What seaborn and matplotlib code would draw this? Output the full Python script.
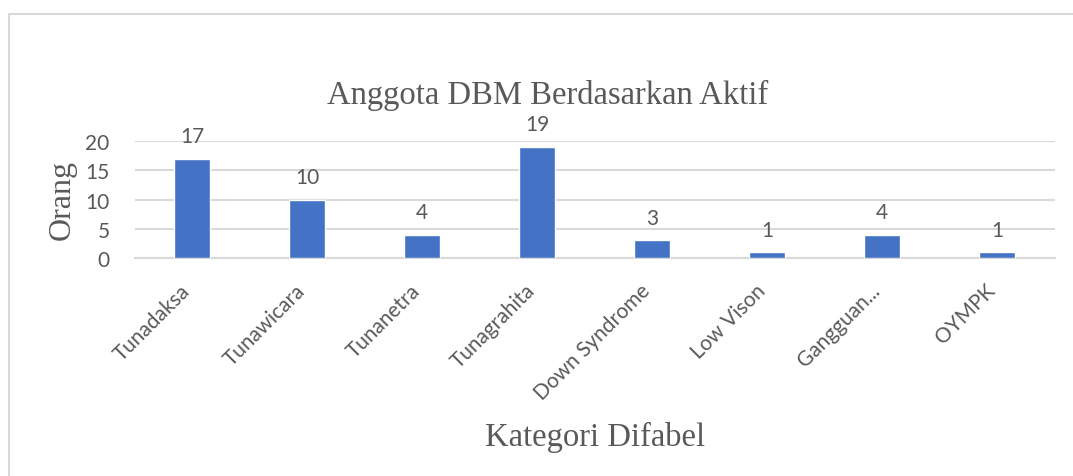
import matplotlib
matplotlib.use("Agg")
import matplotlib.pyplot as plt
from matplotlib.patches import Rectangle
import pandas as pd
import seaborn as sns

# data
categories = ['Tunadaksa', 'Tunawicara', 'Tunanetra', 'Tunagrahita',
              'Down Syndrome', 'Low Vison', 'Gangguan...', 'OYMPK']
jumlah = [17, 10, 4, 19, 3, 1, 4, 1]
y_ticks = [0, 5, 10, 15, 20]

df = pd.DataFrame({'Kategori': categories, 'Orang': jumlah})

sns.set_theme(style="white")
text_col = '#595959'
grid_col = '#D9D9D9'
sans = ['Lato', 'DejaVu Sans']
serif = ['Liberation Serif', 'DejaVu Serif']

fig = plt.figure(figsize=(10.73, 4.77), dpi=100)
ax = fig.add_axes([0.1254, 0.457, 0.8574, 0.2453])

sns.barplot(data=df, x='Kategori', y='Orang', color='#4472C4', width=0.31,
            saturation=1, ax=ax, zorder=3)

ax.set_ylim(0, 20)
ax.set_yticks(y_ticks)
ax.set_xlim(-0.5, len(categories) - 0.5)
ax.yaxis.grid(True, color=grid_col, lw=1.5, zorder=0)
for s in ['top', 'right', 'left']:
    ax.spines[s].set_visible(False)
ax.spines['bottom'].set_color(grid_col)
ax.spines['bottom'].set_linewidth(1.5)
ax.tick_params(axis='both', length=0, colors=text_col, labelsize=15)
ax.tick_params(axis='y', pad=18)

for lab in ax.get_yticklabels():
    lab.set_family(sans)
ax.set_xticks(range(len(categories)))
ax.set_xticklabels(categories, rotation=45, ha='right', rotation_mode='anchor',
                   family=sans, fontsize=15, color=text_col)
for lab in ax.get_xticklabels():
    lab.set_transform(lab.get_transform() +
                      matplotlib.transforms.ScaledTranslation(-0.12, -0.17, fig.dpi_scale_trans))

ax.bar_label(ax.containers[0], padding=9, color=text_col, fontsize=15, family=sans)

ax.set_xlabel('')
ax.set_ylabel('')
fig.text(548 / 1073, 1 - 95 / 477, 'Anggota DBM Berdasarkan Aktif', family=serif,
         fontsize=23.5, color=text_col, ha='center', va='center')
fig.text(62 / 1073, 1 - 200 / 477, 'Orang', family=serif, fontsize=23,
         color=text_col, ha='center', va='center', rotation=90)
fig.text(595 / 1073, 1 - 437 / 477, 'Kategori Difabel', family=serif,
         fontsize=23.5, color=text_col, ha='center', va='center')

# chart border (cropped on right and bottom)
fig.add_artist(Rectangle((9 / 1073, -0.1), 1.2, 1 - 15 / 477 + 0.1,
                         transform=fig.transFigure, fill=False,
                         edgecolor=grid_col, lw=1.5))

fig.savefig('out.png', dpi=100, facecolor='white')
